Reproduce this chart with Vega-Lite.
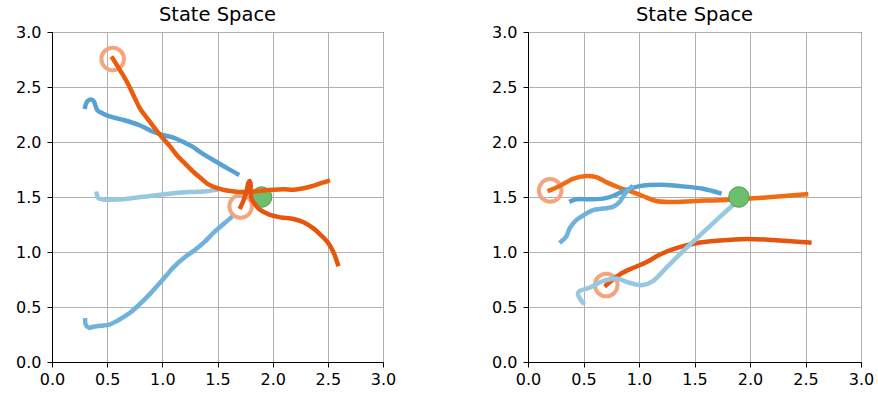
{
  "$schema": "https://vega.github.io/schema/vega-lite/v6.json",
  "padding": {"left": 15, "top": 4, "right": 5, "bottom": 5},
  "background": "white",
  "datasets": {
    "paths": [
      {"panel": "A", "series": "dark", "i": 0, "x": 0.30, "y": 2.32},
      {"panel": "A", "series": "dark", "i": 1, "x": 0.32, "y": 2.37},
      {"panel": "A", "series": "dark", "i": 2, "x": 0.36, "y": 2.385},
      {"panel": "A", "series": "dark", "i": 3, "x": 0.38, "y": 2.37},
      {"panel": "A", "series": "dark", "i": 4, "x": 0.41, "y": 2.29},
      {"panel": "A", "series": "dark", "i": 5, "x": 0.46, "y": 2.26},
      {"panel": "A", "series": "dark", "i": 6, "x": 0.53, "y": 2.23},
      {"panel": "A", "series": "dark", "i": 7, "x": 0.65, "y": 2.20},
      {"panel": "A", "series": "dark", "i": 8, "x": 0.80, "y": 2.15},
      {"panel": "A", "series": "dark", "i": 9, "x": 0.90, "y": 2.10},
      {"panel": "A", "series": "dark", "i": 10, "x": 0.98, "y": 2.07},
      {"panel": "A", "series": "dark", "i": 11, "x": 1.10, "y": 2.04},
      {"panel": "A", "series": "dark", "i": 12, "x": 1.21, "y": 1.99},
      {"panel": "A", "series": "dark", "i": 13, "x": 1.27, "y": 1.96},
      {"panel": "A", "series": "dark", "i": 14, "x": 1.34, "y": 1.91},
      {"panel": "A", "series": "dark", "i": 15, "x": 1.42, "y": 1.86},
      {"panel": "A", "series": "dark", "i": 16, "x": 1.49, "y": 1.82},
      {"panel": "A", "series": "dark", "i": 17, "x": 1.59, "y": 1.76},
      {"panel": "A", "series": "dark", "i": 18, "x": 1.68, "y": 1.71},

      {"panel": "A", "series": "light", "i": 0, "x": 0.405, "y": 1.53},
      {"panel": "A", "series": "light", "i": 1, "x": 0.42, "y": 1.49},
      {"panel": "A", "series": "light", "i": 2, "x": 0.48, "y": 1.475},
      {"panel": "A", "series": "light", "i": 3, "x": 0.56, "y": 1.476},
      {"panel": "A", "series": "light", "i": 4, "x": 0.65, "y": 1.48},
      {"panel": "A", "series": "light", "i": 5, "x": 0.80, "y": 1.50},
      {"panel": "A", "series": "light", "i": 6, "x": 0.95, "y": 1.515},
      {"panel": "A", "series": "light", "i": 7, "x": 1.10, "y": 1.535},
      {"panel": "A", "series": "light", "i": 8, "x": 1.25, "y": 1.545},
      {"panel": "A", "series": "light", "i": 9, "x": 1.40, "y": 1.553},
      {"panel": "A", "series": "light", "i": 10, "x": 1.49, "y": 1.565},

      {"panel": "A", "series": "mid", "i": 0, "x": 0.30, "y": 0.38},
      {"panel": "A", "series": "mid", "i": 1, "x": 0.305, "y": 0.34},
      {"panel": "A", "series": "mid", "i": 2, "x": 0.335, "y": 0.31},
      {"panel": "A", "series": "mid", "i": 3, "x": 0.37, "y": 0.32},
      {"panel": "A", "series": "mid", "i": 4, "x": 0.44, "y": 0.33},
      {"panel": "A", "series": "mid", "i": 5, "x": 0.52, "y": 0.34},
      {"panel": "A", "series": "mid", "i": 6, "x": 0.60, "y": 0.38},
      {"panel": "A", "series": "mid", "i": 7, "x": 0.71, "y": 0.45},
      {"panel": "A", "series": "mid", "i": 8, "x": 0.80, "y": 0.53},
      {"panel": "A", "series": "mid", "i": 9, "x": 0.88, "y": 0.61},
      {"panel": "A", "series": "mid", "i": 10, "x": 0.96, "y": 0.70},
      {"panel": "A", "series": "mid", "i": 11, "x": 1.04, "y": 0.79},
      {"panel": "A", "series": "mid", "i": 12, "x": 1.10, "y": 0.86},
      {"panel": "A", "series": "mid", "i": 13, "x": 1.20, "y": 0.95},
      {"panel": "A", "series": "mid", "i": 14, "x": 1.285, "y": 1.01},
      {"panel": "A", "series": "mid", "i": 15, "x": 1.38, "y": 1.09},
      {"panel": "A", "series": "mid", "i": 16, "x": 1.47, "y": 1.18},
      {"panel": "A", "series": "mid", "i": 17, "x": 1.55, "y": 1.25},
      {"panel": "A", "series": "mid", "i": 18, "x": 1.62, "y": 1.31},

      {"panel": "A", "series": "orA", "i": 0, "x": 0.55, "y": 2.76},
      {"panel": "A", "series": "orA", "i": 1, "x": 0.60, "y": 2.68},
      {"panel": "A", "series": "orA", "i": 2, "x": 0.68, "y": 2.545},
      {"panel": "A", "series": "orA", "i": 3, "x": 0.75, "y": 2.40},
      {"panel": "A", "series": "orA", "i": 4, "x": 0.80, "y": 2.30},
      {"panel": "A", "series": "orA", "i": 5, "x": 0.86, "y": 2.22},
      {"panel": "A", "series": "orA", "i": 6, "x": 0.92, "y": 2.14},
      {"panel": "A", "series": "orA", "i": 7, "x": 1.00, "y": 2.04},
      {"panel": "A", "series": "orA", "i": 8, "x": 1.07, "y": 1.96},
      {"panel": "A", "series": "orA", "i": 9, "x": 1.14, "y": 1.87},
      {"panel": "A", "series": "orA", "i": 10, "x": 1.20, "y": 1.81},
      {"panel": "A", "series": "orA", "i": 11, "x": 1.285, "y": 1.725},
      {"panel": "A", "series": "orA", "i": 12, "x": 1.35, "y": 1.67},
      {"panel": "A", "series": "orA", "i": 13, "x": 1.41, "y": 1.62},
      {"panel": "A", "series": "orA", "i": 14, "x": 1.50, "y": 1.58},
      {"panel": "A", "series": "orA", "i": 15, "x": 1.56, "y": 1.563},
      {"panel": "A", "series": "orA", "i": 16, "x": 1.65, "y": 1.55},
      {"panel": "A", "series": "orA", "i": 17, "x": 1.74, "y": 1.545},
      {"panel": "A", "series": "orA", "i": 18, "x": 1.83, "y": 1.55},
      {"panel": "A", "series": "orA", "i": 19, "x": 1.92, "y": 1.56},
      {"panel": "A", "series": "orA", "i": 20, "x": 2.01, "y": 1.567},
      {"panel": "A", "series": "orA", "i": 21, "x": 2.10, "y": 1.57},
      {"panel": "A", "series": "orA", "i": 22, "x": 2.19, "y": 1.567},
      {"panel": "A", "series": "orA", "i": 23, "x": 2.28, "y": 1.58},
      {"panel": "A", "series": "orA", "i": 24, "x": 2.375, "y": 1.603},
      {"panel": "A", "series": "orA", "i": 25, "x": 2.45, "y": 1.63},
      {"panel": "A", "series": "orA", "i": 26, "x": 2.50, "y": 1.645},

      {"panel": "A", "series": "orB", "i": 0, "x": 1.71, "y": 1.41},
      {"panel": "A", "series": "orB", "i": 1, "x": 1.74, "y": 1.48},
      {"panel": "A", "series": "orB", "i": 2, "x": 1.765, "y": 1.56},
      {"panel": "A", "series": "orB", "i": 3, "x": 1.78, "y": 1.63},
      {"panel": "A", "series": "orB", "i": 4, "x": 1.79, "y": 1.645},
      {"panel": "A", "series": "orB", "i": 5, "x": 1.80, "y": 1.62},
      {"panel": "A", "series": "orB", "i": 6, "x": 1.80, "y": 1.54},
      {"panel": "A", "series": "orB", "i": 7, "x": 1.81, "y": 1.48},
      {"panel": "A", "series": "orB", "i": 8, "x": 1.85, "y": 1.42},
      {"panel": "A", "series": "orB", "i": 9, "x": 1.89, "y": 1.38},
      {"panel": "A", "series": "orB", "i": 10, "x": 1.97, "y": 1.34},
      {"panel": "A", "series": "orB", "i": 11, "x": 2.07, "y": 1.315},
      {"panel": "A", "series": "orB", "i": 12, "x": 2.19, "y": 1.30},
      {"panel": "A", "series": "orB", "i": 13, "x": 2.28, "y": 1.27},
      {"panel": "A", "series": "orB", "i": 14, "x": 2.375, "y": 1.21},
      {"panel": "A", "series": "orB", "i": 15, "x": 2.44, "y": 1.15},
      {"panel": "A", "series": "orB", "i": 16, "x": 2.50, "y": 1.087},
      {"panel": "A", "series": "orB", "i": 17, "x": 2.55, "y": 1.00},
      {"panel": "A", "series": "orB", "i": 18, "x": 2.59, "y": 0.89},

      {"panel": "B", "series": "orA", "i": 0, "x": 0.195, "y": 1.56},
      {"panel": "B", "series": "orA", "i": 1, "x": 0.285, "y": 1.60},
      {"panel": "B", "series": "orA", "i": 2, "x": 0.405, "y": 1.665},
      {"panel": "B", "series": "orA", "i": 3, "x": 0.525, "y": 1.69},
      {"panel": "B", "series": "orA", "i": 4, "x": 0.615, "y": 1.68},
      {"panel": "B", "series": "orA", "i": 5, "x": 0.705, "y": 1.635},
      {"panel": "B", "series": "orA", "i": 6, "x": 0.825, "y": 1.584},
      {"panel": "B", "series": "orA", "i": 7, "x": 0.945, "y": 1.545},
      {"panel": "B", "series": "orA", "i": 8, "x": 1.035, "y": 1.509},
      {"panel": "B", "series": "orA", "i": 9, "x": 1.155, "y": 1.464},
      {"panel": "B", "series": "orA", "i": 10, "x": 1.275, "y": 1.455},
      {"panel": "B", "series": "orA", "i": 11, "x": 1.515, "y": 1.464},
      {"panel": "B", "series": "orA", "i": 12, "x": 1.815, "y": 1.476},
      {"panel": "B", "series": "orA", "i": 13, "x": 2.115, "y": 1.494},
      {"panel": "B", "series": "orA", "i": 14, "x": 2.505, "y": 1.524},

      {"panel": "B", "series": "orB", "i": 0, "x": 0.705, "y": 0.699},
      {"panel": "B", "series": "orB", "i": 1, "x": 0.825, "y": 0.795},
      {"panel": "B", "series": "orB", "i": 2, "x": 0.945, "y": 0.855},
      {"panel": "B", "series": "orB", "i": 3, "x": 1.065, "y": 0.906},
      {"panel": "B", "series": "orB", "i": 4, "x": 1.185, "y": 0.975},
      {"panel": "B", "series": "orB", "i": 5, "x": 1.335, "y": 1.035},
      {"panel": "B", "series": "orB", "i": 6, "x": 1.515, "y": 1.08},
      {"panel": "B", "series": "orB", "i": 7, "x": 1.725, "y": 1.104},
      {"panel": "B", "series": "orB", "i": 8, "x": 1.965, "y": 1.119},
      {"panel": "B", "series": "orB", "i": 9, "x": 2.205, "y": 1.11},
      {"panel": "B", "series": "orB", "i": 10, "x": 2.535, "y": 1.086},

      {"panel": "B", "series": "dark", "i": 0, "x": 0.39, "y": 1.464},
      {"panel": "B", "series": "dark", "i": 1, "x": 0.435, "y": 1.479},
      {"panel": "B", "series": "dark", "i": 2, "x": 0.555, "y": 1.48},
      {"panel": "B", "series": "dark", "i": 3, "x": 0.675, "y": 1.485},
      {"panel": "B", "series": "dark", "i": 4, "x": 0.765, "y": 1.509},
      {"panel": "B", "series": "dark", "i": 5, "x": 0.885, "y": 1.566},
      {"panel": "B", "series": "dark", "i": 6, "x": 1.005, "y": 1.599},
      {"panel": "B", "series": "dark", "i": 7, "x": 1.185, "y": 1.611},
      {"panel": "B", "series": "dark", "i": 8, "x": 1.365, "y": 1.599},
      {"panel": "B", "series": "dark", "i": 9, "x": 1.575, "y": 1.575},
      {"panel": "B", "series": "dark", "i": 10, "x": 1.725, "y": 1.536},

      {"panel": "B", "series": "mid", "i": 0, "x": 0.30, "y": 1.095},
      {"panel": "B", "series": "mid", "i": 1, "x": 0.345, "y": 1.14},
      {"panel": "B", "series": "mid", "i": 2, "x": 0.375, "y": 1.215},
      {"panel": "B", "series": "mid", "i": 3, "x": 0.435, "y": 1.29},
      {"panel": "B", "series": "mid", "i": 4, "x": 0.51, "y": 1.34},
      {"panel": "B", "series": "mid", "i": 5, "x": 0.585, "y": 1.38},
      {"panel": "B", "series": "mid", "i": 6, "x": 0.675, "y": 1.395},
      {"panel": "B", "series": "mid", "i": 7, "x": 0.765, "y": 1.41},
      {"panel": "B", "series": "mid", "i": 8, "x": 0.825, "y": 1.455},
      {"panel": "B", "series": "mid", "i": 9, "x": 0.885, "y": 1.545},
      {"panel": "B", "series": "mid", "i": 10, "x": 0.93, "y": 1.59},

      {"panel": "B", "series": "light", "i": 0, "x": 0.495, "y": 0.54},
      {"panel": "B", "series": "light", "i": 1, "x": 0.45, "y": 0.615},
      {"panel": "B", "series": "light", "i": 2, "x": 0.465, "y": 0.645},
      {"panel": "B", "series": "light", "i": 3, "x": 0.555, "y": 0.675},
      {"panel": "B", "series": "light", "i": 4, "x": 0.675, "y": 0.735},
      {"panel": "B", "series": "light", "i": 5, "x": 0.795, "y": 0.759},
      {"panel": "B", "series": "light", "i": 6, "x": 0.915, "y": 0.72},
      {"panel": "B", "series": "light", "i": 7, "x": 1.035, "y": 0.699},
      {"panel": "B", "series": "light", "i": 8, "x": 1.125, "y": 0.735},
      {"panel": "B", "series": "light", "i": 9, "x": 1.245, "y": 0.855},
      {"panel": "B", "series": "light", "i": 10, "x": 1.425, "y": 1.035},
      {"panel": "B", "series": "light", "i": 11, "x": 1.665, "y": 1.26},
      {"panel": "B", "series": "light", "i": 12, "x": 1.845, "y": 1.425}
    ],
    "markers": [
      {"panel": "A", "kind": "start", "x": 0.55, "y": 2.755},
      {"panel": "A", "kind": "start", "x": 1.71, "y": 1.415},
      {"panel": "A", "kind": "goal", "x": 1.9, "y": 1.5},
      {"panel": "B", "kind": "start", "x": 0.2, "y": 1.56},
      {"panel": "B", "kind": "start", "x": 0.705, "y": 0.70},
      {"panel": "B", "kind": "goal", "x": 1.9, "y": 1.5}
    ]
  },
  "hconcat": [
    {
      "title": "State Space",
      "width": 331,
      "height": 330,
      "encoding": {
        "x": {"field": "x", "type": "quantitative", "scale": {"domain": [0, 3], "nice": false, "zero": false},
          "axis": {"values": [0, 0.5, 1, 1.5, 2, 2.5, 3], "format": ".1f"}},
        "y": {"field": "y", "type": "quantitative", "scale": {"domain": [0, 3], "nice": false, "zero": false},
          "axis": {"values": [0, 0.5, 1, 1.5, 2, 2.5, 3], "format": ".1f"}}
      },
      "layer": [
        {
          "data": {"name": "markers"},
          "transform": [{"filter": "datum.panel === 'A' && datum.kind === 'start'"}],
          "mark": {"type": "point", "shape": "circle", "filled": false, "stroke": "#f4a57f", "strokeWidth": 4, "size": 510, "opacity": 1}
        },
        {
          "data": {"name": "markers"},
          "transform": [{"filter": "datum.panel === 'A' && datum.kind === 'goal'"}],
          "mark": {"type": "point", "shape": "circle", "filled": true, "fill": "#6dbf6d", "stroke": "#4f9f4f", "strokeWidth": 1, "size": 420, "opacity": 1}
        },
        {
          "data": {"name": "paths"},
          "transform": [{"filter": "datum.panel === 'A'"}],
          "mark": {"type": "line", "strokeWidth": 4.5, "strokeCap": "square", "strokeJoin": "round", "interpolate": "catmull-rom"},
          "encoding": {
            "order": {"field": "i", "type": "quantitative"},
            "detail": {"field": "series", "type": "nominal"},
            "color": {"field": "series", "type": "nominal", "legend": null,
              "scale": {"domain": ["dark", "mid", "light", "orA", "orB"], "range": ["#58a1d3", "#6fb2dc", "#98c7e2", "#ea5d0c", "#e6550d"]}}
          }
        }
      ]
    },
    {
      "title": "State Space",
      "width": 333,
      "height": 330,
      "encoding": {
        "x": {"field": "x", "type": "quantitative", "scale": {"domain": [0, 3], "nice": false, "zero": false},
          "axis": {"values": [0, 0.5, 1, 1.5, 2, 2.5, 3], "format": ".1f"}},
        "y": {"field": "y", "type": "quantitative", "scale": {"domain": [0, 3], "nice": false, "zero": false},
          "axis": {"values": [0, 0.5, 1, 1.5, 2, 2.5, 3], "format": ".1f"}}
      },
      "layer": [
        {
          "data": {"name": "markers"},
          "transform": [{"filter": "datum.panel === 'B' && datum.kind === 'start'"}],
          "mark": {"type": "point", "shape": "circle", "filled": false, "stroke": "#f4a57f", "strokeWidth": 4, "size": 510, "opacity": 1}
        },
        {
          "data": {"name": "paths"},
          "transform": [{"filter": "datum.panel === 'B'"}],
          "mark": {"type": "line", "strokeWidth": 4.5, "strokeCap": "square", "strokeJoin": "round", "interpolate": "catmull-rom"},
          "encoding": {
            "order": {"field": "i", "type": "quantitative"},
            "detail": {"field": "series", "type": "nominal"},
            "color": {"field": "series", "type": "nominal", "legend": null,
              "scale": {"domain": ["dark", "mid", "light", "orA", "orB"], "range": ["#58a1d3", "#6fb2dc", "#98c7e2", "#f26b12", "#e6550d"]}}
          }
        },
        {
          "data": {"name": "markers"},
          "transform": [{"filter": "datum.panel === 'B' && datum.kind === 'goal'"}],
          "mark": {"type": "point", "shape": "circle", "filled": true, "fill": "#6dbf6d", "stroke": "#4f9f4f", "strokeWidth": 1, "size": 420, "opacity": 1}
        }
      ]
    }
  ],
  "spacing": 145,
  "bounds": "flush",
  "config": {
    "font": "DejaVu Sans",
    "view": {"stroke": "black", "strokeWidth": 1},
    "title": {"fontSize": 19.5, "fontWeight": "normal", "color": "black", "font": "DejaVu Sans", "offset": -1},
    "axis": {
      "title": null,
      "labelFontSize": 16,
      "labelColor": "black",
      "labelFont": "DejaVu Sans",
      "domainColor": "black",
      "tickColor": "black",
      "tickSize": 5,
      "gridColor": "#b0b0b0",
      "gridWidth": 1,
      "gridOpacity": 1,
      "labelFlush": false,
      "labelOverlap": false
    },
    "axisX": {"labelPadding": 4},
    "axisY": {"labelPadding": 6}
  },
  "resolve": {"scale": {"color": "independent"}}
}
